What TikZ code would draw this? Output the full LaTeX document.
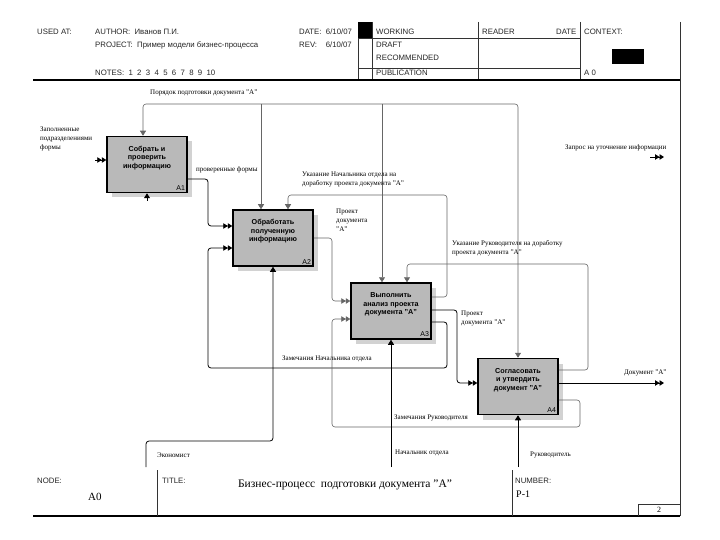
\documentclass[tikz,border=0pt]{standalone}
\usepackage{fontspec}
\setmainfont{Liberation Serif}
\setsansfont{Liberation Sans}
\usetikzlibrary{arrows.meta,shadows}
\begin{document}
\begin{tikzpicture}[x=1pt,y=-1pt,
  box/.style={draw=black,line width=1.5pt,fill=gray!55,minimum width=80pt,minimum height=56pt,inner sep=0pt,
     drop shadow={shadow xshift=5pt,shadow yshift=-5pt,fill=gray!35,opacity=1}},
  boxtext/.style={font=\sffamily\bfseries\fontsize{7.2}{8.5}\selectfont,align=center,inner sep=0pt},
  boxnum/.style={font=\sffamily\fontsize{7}{8}\selectfont,anchor=south east,inner sep=2.5pt},
  lbl/.style={font=\fontsize{7}{9}\selectfont,align=left,inner sep=0pt},
  hdr/.style={font=\sffamily\fontsize{7.8}{10}\selectfont,anchor=west,inner sep=0pt,text=black!85},
  hline/.style={line width=0.6pt,black!80},
  heavyline/.style={line width=1.4pt,black},
  conB/.style={line width=0.8pt,black,rounded corners=3pt},
  conG/.style={line width=0.6pt,black!60,rounded corners=3pt},
  arrV/.style={-{Triangle[length=5pt,width=6pt]}},
  arrR/.style={-{Triangle[length=4.5pt,width=5.5pt]Triangle[length=4.5pt,width=5.5pt]}},
]
\useasboundingbox (0,0) rectangle (720,540);
\fill[white] (0,0) rectangle (720,540);

% ---------------- header ----------------
\draw[hline] (358,22) -- (358,80);
\draw[hline] (372,22) -- (372,80);
\draw[hline] (478,22) -- (478,80);
\draw[hline] (580,22) -- (580,80);
\draw[hline] (680,22) -- (680,516);
\draw[hline] (358,38) -- (580,38);
\draw[hline] (358,68) -- (580,68);
\fill[black] (358,22) rectangle (372,38);
\fill[black] (612,49) rectangle (644,64);
\draw[heavyline] (33,80) -- (680,80);

\node[hdr] (usedat) at (37,32) {USED AT:};
\node[hdr] (author) at (95,32) {AUTHOR:\ \ Иванов П.И.};
\node[hdr] (project) at (95,45) {PROJECT:\ \ Пример модели бизнес-процесса};
\node[hdr] (notes) at (95,73) {NOTES:\ \ 1\ \ 2\ \ 3\ \ 4\ \ 5\ \ 6\ \ 7\ \ 8\ \ 9\ \ 10};
\node[hdr] (date) at (299,32) {DATE:\ \ 6/10/07};
\node[hdr] (rev) at (299,45) {REV:\ \ \ \ 6/10/07};
\node[hdr] (working) at (376,32) {WORKING};
\node[hdr] (draft) at (376,45) {DRAFT};
\node[hdr] (recom) at (376,58) {RECOMMENDED};
\node[hdr] (publ) at (376,73) {PUBLICATION};
\node[hdr] (reader) at (482,32) {READER};
\node[hdr] (rdate) at (556,32) {DATE};
\node[hdr] (context) at (584,32) {CONTEXT:};
\node[hdr] (ctxnode) at (584,73) {A 0};

% ---------------- footer ----------------
\draw[heavyline] (33,516) -- (680,516);
\draw[hline] (157,470) -- (157,516);
\draw[hline] (512,470) -- (512,516);
\draw[hline] (638,516) -- (638,504) -- (680,504);
\node[hdr] (nodelbl) at (37,481) {NODE:};
\node[font=\fontsize{11}{12}\selectfont,anchor=west,inner sep=0pt] (nodeval) at (88,497) {A0};
\node[hdr] (titlelbl) at (162,481) {TITLE:};
\node[font=\fontsize{11.5}{13}\selectfont,inner sep=0pt] (title) at (345,485) {Бизнес-процесс\ \ подготовки документа "А"};
\node[hdr] (numlbl) at (515,481) {NUMBER:};
\node[font=\fontsize{10}{12}\selectfont,anchor=west,inner sep=0pt] (numval) at (516,494) {P-1};
\node[font=\fontsize{8}{10}\selectfont,inner sep=0pt] (page) at (659,510) {2};

% ---------------- boxes ----------------
\node[box] (A1) at (147,164.5) {};
\node[box] (A2) at (273,238) {};
\node[box] (A3) at (391,311) {};
\node[box] (A4) at (518,386.5) {};

\node[boxtext] (A1t) at ([yshift=6.5pt]A1.center) {Собрать и\\проверить\\информацию};
\node[boxtext] (A2t) at ([yshift=6.5pt]A2.center) {Обработать\\полученную\\информацию};
\node[boxtext] (A3t) at ([yshift=6.5pt]A3.center) {Выполнить\\анализ проекта\\документа "А"};
\node[boxtext] (A4t) at ([yshift=6.5pt]A4.center) {Согласовать\\и утвердить\\документ "А"};
\node[boxnum] (A1n) at (A1.south east) {A1};
\node[boxnum] (A2n) at (A2.south east) {A2};
\node[boxnum] (A3n) at (A3.south east) {A3};
\node[boxnum] (A4n) at (A4.south east) {A4};

% ---------------- free ends ----------------
\coordinate (inA1) at (95,160);
\coordinate (zapros0) at (650,157);
\coordinate (zapros1) at (664,157);
\coordinate (docA) at (664,383);
\coordinate (eko) at (146,467);
\coordinate (nach) at (391,467);
\coordinate (ruk) at (518,467);
\coordinate (mechA1) at (147,201);

% ---------------- connectors ----------------
% control: Порядок подготовки документа
\draw[conG,{Triangle[length=5pt,width=6pt]}-{Triangle[length=5pt,width=6pt]}]
  ([xshift=-4pt]A1.north) -- (143,104) -- (518,104) -- (A4.north);
\draw[conG,arrV] (261,104) -- ([xshift=-12pt]A2.north);
\draw[conG,arrV] (382,104) -- ([xshift=-9pt]A3.north);

% input A1 (tunnelled)
\draw[conB,arrR] (inA1) -- (A1.west |- inA1);
% mechanism A1 (tunnelled)
\draw[conB,arrV] (mechA1) -- (A1.south);
% output Запрос (tunnelled)
\draw[conB,arrR] (zapros0) -- (zapros1);

% A1 -> A2
\draw[conB,arrR] ([yshift=-14.5pt]A1.east) -| (208,226) -- ([yshift=12pt]A2.west);
% A2 -> A3
\draw[conG,arrR] (A2.east) -- (332,238) |- ([yshift=10pt]A3.west);
% A3 -> A2 control
\draw[conG,arrV] ([yshift=14pt]A3.east) -- (447,297) -- (447,195) -| ([xshift=15pt]A2.north);
% A3 -> A4
\draw[conB,arrR] ([yshift=1pt]A3.east) -- (457,310) |- ([yshift=3.5pt]A4.west);
% A3 -> A2 input (Замечания Начальника отдела)
\draw[conB,arrR] ([yshift=-11pt]A3.east) -- (447,322) -- (447,368) -- (208,368) |- ([yshift=-10pt]A2.west);
% A4 -> A3 control
\draw[conG,arrV] ([yshift=16.5pt]A4.east) -- (588,370) -- (588,264) -| ([xshift=16pt]A3.north);
% A4 -> A3 input (Замечания Руководителя)
\draw[conG,arrR] ([yshift=-13.5pt]A4.east) -- (580,400) -- (580,427) -- (332,427) |- ([yshift=-8pt]A3.west);
% A4 output
\draw[conB,arrR] ([yshift=3.5pt]A4.east) -- (docA);
% mechanisms
\draw[conB,arrV] (eko) -- (146,441) -- (273,441) -- (A2.south);
\draw[conB,arrV] (nach) -- (A3.south);
\draw[conB,arrV] (ruk) -- (A4.south);

% ---------------- labels ----------------
\node[lbl,anchor=north west] (l_in) at (40,127) {Заполненные\\подразделениями\\формы};
\node[lbl,anchor=west] (l_por) at (150,93) {Порядок подготовки документа "А"};
\node[lbl,anchor=west] (l_prov) at (196,170) {проверенные формы};
\node[lbl,anchor=north west] (l_ukn) at (302,172) {Указание Начальника отдела на\\доработку проекта документа "А"};
\node[lbl,anchor=north west] (l_pr1) at (336,209) {Проект\\документа\\"А"};
\node[lbl,anchor=north west] (l_ukr) at (452,240) {Указание Руководителя на доработку\\проекта документа "А"};
\node[lbl,anchor=north west] (l_pr2) at (461,311) {Проект\\документа "А"};
\node[lbl,anchor=west] (l_zn) at (282,359) {Замечания Начальника отдела};
\node[lbl,anchor=west] (l_zr) at (394,418) {Замечания Руководителя};
\node[lbl,anchor=west] (l_eko) at (157,455) {Экономист};
\node[lbl,anchor=west] (l_nach) at (395,453) {Начальник отдела};
\node[lbl,anchor=west] (l_ruk) at (530,455) {Руководитель};
\node[lbl,anchor=west] (l_doc) at (624,373) {Документ "А"};
\node[lbl,anchor=west] (l_zap) at (565,148) {Запрос на уточнение информации};
\end{tikzpicture}
\end{document}
